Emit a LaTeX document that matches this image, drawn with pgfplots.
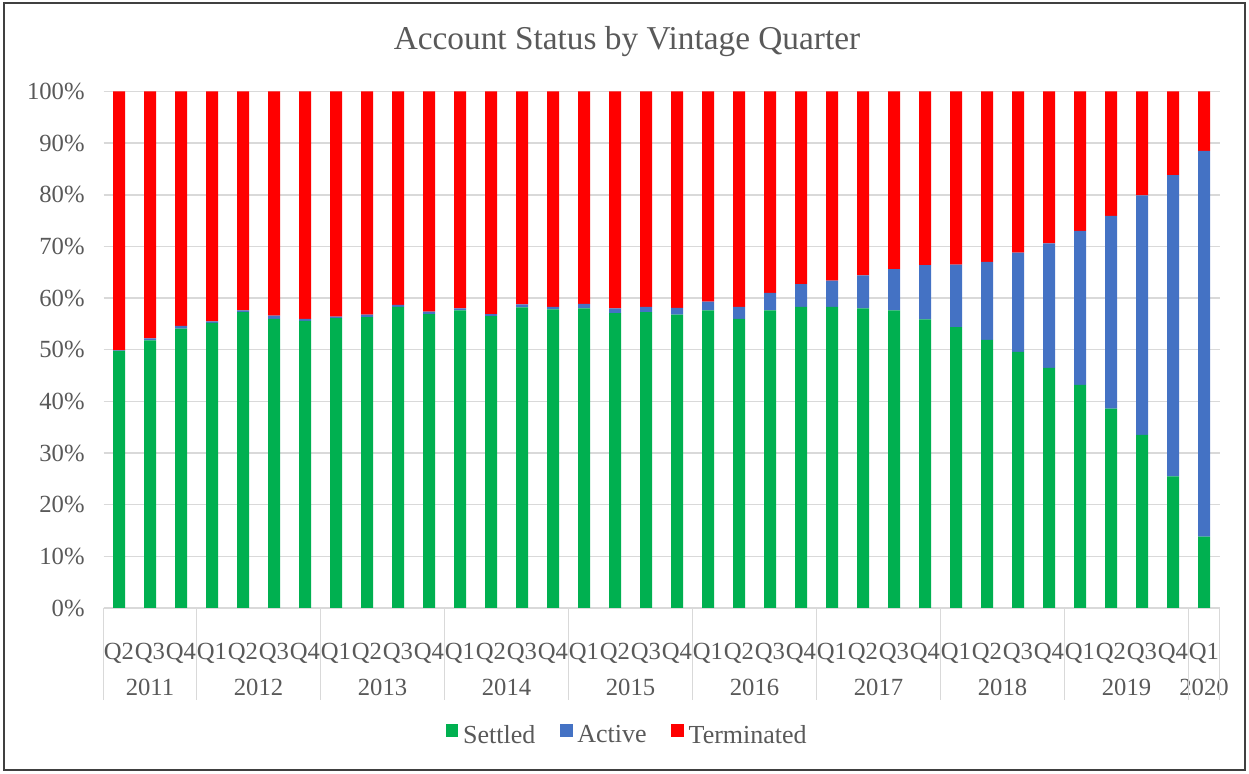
\documentclass[border=0pt]{standalone}
\usepackage{fontspec}
\setmainfont{Liberation Serif}
\usepackage{pgfplots}
\pgfplotsset{compat=1.18}
\usepackage{pgfplotstable}
\definecolor{settled}{HTML}{00B050}
\definecolor{active}{HTML}{4472C4}
\definecolor{term}{HTML}{FF0000}
\definecolor{txt}{HTML}{595959}
\definecolor{gridc}{HTML}{D9D9D9}

\pgfplotstableread{
x s a t
0 49.8 0.1 50.1
1 51.8 0.4 47.8
2 54.1 0.5 45.4
3 55.2 0.3 44.5
4 57.3 0.3 42.4
5 56.0 0.6 43.4
6 55.6 0.4 44.0
7 56.1 0.3 43.6
8 56.3 0.5 43.2
9 58.3 0.4 41.3
10 56.9 0.5 42.6
11 57.6 0.4 42.0
12 56.5 0.4 43.1
13 58.2 0.6 41.2
14 57.8 0.5 41.7
15 58.0 0.9 41.1
16 57.1 0.9 42.0
17 57.3 1.0 41.7
18 56.8 1.3 41.9
19 57.6 1.7 40.7
20 56.0 2.3 41.7
21 57.6 3.4 39.0
22 58.3 4.4 37.3
23 58.3 5.1 36.6
24 58.0 6.4 35.6
25 57.6 8.0 34.4
26 55.9 10.5 33.6
27 54.4 12.1 33.5
28 51.9 15.1 33.0
29 49.6 19.2 31.2
30 46.5 24.1 29.4
31 43.2 29.8 27.0
32 38.6 37.3 24.1
33 33.5 46.4 20.1
34 25.5 58.3 16.2
35 13.8 74.7 11.5
}\data

\begin{document}
\begin{tikzpicture}[x=0.75pt,y=0.75pt]
\useasboundingbox (0,0) rectangle (1249,774);
\draw[black!75, line width=1.5pt] (4,4) rectangle (1245,771);
\node[font=\fontsize{25}{30}\selectfont, text=txt] at (627,732) {Account Status by Vintage Quarter};
\begin{axis}[
  at={(77.625pt,124.5pt)}, anchor=south west,
  scale only axis, width=837pt, height=387.375pt,
  ybar stacked, bar width=9pt,
  xmin=-0.5, xmax=35.5, ymin=0, ymax=100,
  enlarge x limits=false,
  ytick={0,10,...,100},
  /pgf/number format/assume math mode=true,
  yticklabel={\pgfmathprintnumber{\tick}\%},
  xtick={0,...,35},
  xticklabels={Q2,Q3,Q4,Q1,Q2,Q3,Q4,Q1,Q2,Q3,Q4,Q1,Q2,Q3,Q4,Q1,Q2,Q3,Q4,Q1,Q2,Q3,Q4,Q1,Q2,Q3,Q4,Q1,Q2,Q3,Q4,Q1,Q2,Q3,Q4,Q1},
  major tick length=0pt,
  axis x line*=bottom, axis y line*=left,
  x axis line style={draw=gridc, line width=1.1pt, -},
  y axis line style={draw=none},
  ymajorgrids, major grid style={draw=gridc, line width=1.1pt},
  tick label style={font=\fontsize{18.5}{22}\selectfont, text=txt, inner sep=0pt},
  yticklabel style={xshift=-14pt},
  xticklabel style={anchor=base, yshift=-39pt},
  clip=false,
  legend columns=3,
  legend style={at={(0.4705,-0.246)}, anchor=center, draw=none, font=\fontsize{19.5}{22}\selectfont, text=txt,
    nodes={inner xsep=3.5pt},
    /tikz/every even column/.append style={column sep=15pt}},
  legend image code/.code={\path[#1] (0pt,-1.5pt) rectangle (9.5pt,8pt);},
]
\addplot[fill=settled, draw=none] table[x=x,y=s]{\data};
\addplot[fill=active, draw=none] table[x=x,y=a]{\data};
\addplot[fill=term, draw=none] table[x=x,y=t]{\data};
\legend{Settled,Active,Terminated}
\pgfplotsinvokeforeach{-0.5,2.5,6.5,10.5,14.5,18.5,22.5,26.5,30.5,34.5,35.5}{
  \draw[gridc, line width=1.1pt] (axis cs:#1,0) -- ++(0pt,-69pt);
}
\node[anchor=base, yshift=-66pt, font=\fontsize{18.5}{22}\selectfont, text=txt] at (axis cs:1,0) {2011};
\node[anchor=base, yshift=-66pt, font=\fontsize{18.5}{22}\selectfont, text=txt] at (axis cs:4.5,0) {2012};
\node[anchor=base, yshift=-66pt, font=\fontsize{18.5}{22}\selectfont, text=txt] at (axis cs:8.5,0) {2013};
\node[anchor=base, yshift=-66pt, font=\fontsize{18.5}{22}\selectfont, text=txt] at (axis cs:12.5,0) {2014};
\node[anchor=base, yshift=-66pt, font=\fontsize{18.5}{22}\selectfont, text=txt] at (axis cs:16.5,0) {2015};
\node[anchor=base, yshift=-66pt, font=\fontsize{18.5}{22}\selectfont, text=txt] at (axis cs:20.5,0) {2016};
\node[anchor=base, yshift=-66pt, font=\fontsize{18.5}{22}\selectfont, text=txt] at (axis cs:24.5,0) {2017};
\node[anchor=base, yshift=-66pt, font=\fontsize{18.5}{22}\selectfont, text=txt] at (axis cs:28.5,0) {2018};
\node[anchor=base, yshift=-66pt, font=\fontsize{18.5}{22}\selectfont, text=txt] at (axis cs:32.5,0) {2019};
\node[anchor=base, yshift=-66pt, font=\fontsize{18.5}{22}\selectfont, text=txt] at (axis cs:35,0) {2020};
\end{axis}
\end{tikzpicture}
\end{document}
